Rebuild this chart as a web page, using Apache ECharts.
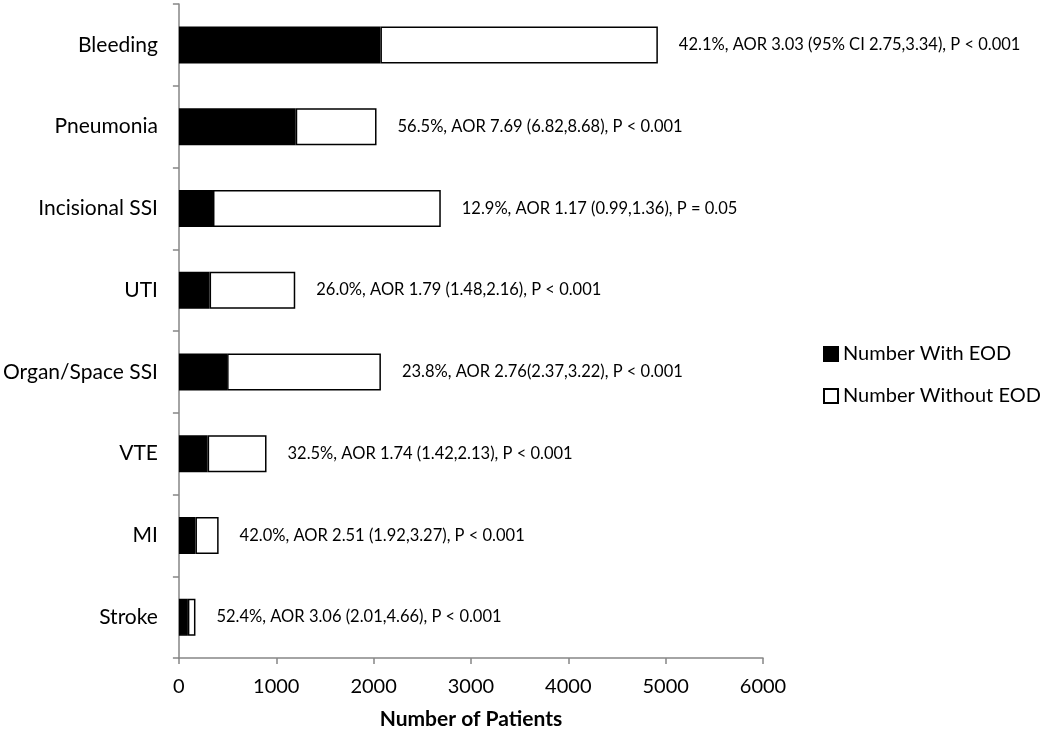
<!DOCTYPE html>
<html>
<head>
<meta charset="utf-8">
<script src="https://cdn.jsdelivr.net/npm/echarts@6/dist/echarts.min.js"></script>
<style>
html,body{margin:0;padding:0;background:#fff;}
#chart{width:1050px;height:735px;}
</style>
</head>
<body>
<div id="chart"></div>
<script>
const categories = ["Bleeding", "Pneumonia", "Incisional SSI", "UTI", "Organ/Space SSI", "VTE", "MI", "Stroke"];
const withEOD = [2070, 1200, 350, 315, 495, 295, 170, 92];
const withoutEOD = [2850, 830, 2340, 880, 1580, 605, 238, 78];
const annotations = [
  "42.1%, AOR 3.03 (95% CI 2.75,3.34), P < 0.001",
  "56.5%, AOR 7.69 (6.82,8.68), P < 0.001",
  "12.9%, AOR 1.17 (0.99,1.36), P = 0.05",
  "26.0%, AOR 1.79 (1.48,2.16), P < 0.001",
  "23.8%, AOR 2.76(2.37,3.22), P < 0.001",
  "32.5%, AOR 1.74 (1.42,2.13), P < 0.001",
  "42.0%, AOR 2.51 (1.92,3.27), P < 0.001",
  "52.4%, AOR 3.06 (2.01,4.66), P < 0.001"
];
const xTicks = [0, 1000, 2000, 3000, 4000, 5000, 6000];

const font = "Lato, 'Open Sans', sans-serif";
const chart = echarts.init(document.getElementById('chart'), null, {renderer: 'canvas'});
chart.setOption({
  animation: false,
  backgroundColor: '#fff',
  textStyle: {fontFamily: font, color: '#000'},
  grid: {left: 178, right: 287, top: 4, bottom: 77, containLabel: false},
  legend: {
    orient: 'vertical',
    left: 818,
    top: 339,
    itemWidth: 14,
    itemHeight: 14,
    itemGap: 22,
    icon: 'rect',
    textStyle: {fontSize: 20, color: '#000', fontFamily: font},
    data: ['Number With EOD', 'Number Without EOD']
  },
  xAxis: {
    type: 'value',
    min: xTicks[0],
    max: xTicks[xTicks.length - 1],
    interval: 1000,
    name: 'Number of Patients',
    nameLocation: 'middle',
    nameGap: 51,
    nameTextStyle: {fontSize: 21, fontWeight: 'bold', color: '#000', fontFamily: font},
    axisLine: {show: true, lineStyle: {color: '#868686', width: 1.5}},
    axisTick: {show: true, length: 6, lineStyle: {color: '#868686', width: 1.5}},
    axisLabel: {fontSize: 20, color: '#000', margin: 19, fontFamily: font, formatter: v => String(v)},
    splitLine: {show: false}
  },
  yAxis: {
    type: 'category',
    data: categories,
    inverse: true,
    axisLine: {show: true, lineStyle: {color: '#868686', width: 1.5}},
    axisTick: {show: true, length: 6, inside: false, lineStyle: {color: '#868686', width: 1.5}},
    axisLabel: {fontSize: 21, color: '#000', margin: 21, fontFamily: font}
  },
  series: [
    {
      name: 'Number With EOD',
      type: 'bar',
      stack: 'total',
      barWidth: 37,
      data: withEOD,
      itemStyle: {color: '#000', borderColor: '#000', borderWidth: 1.5}
    },
    {
      name: 'Number Without EOD',
      type: 'bar',
      stack: 'total',
      barWidth: 37,
      data: withoutEOD,
      itemStyle: {color: '#fff', borderColor: '#000', borderWidth: 1.5},
      label: {
        show: true,
        position: 'right',
        distance: 21,
        fontSize: 16.5,
        color: '#000',
        fontFamily: font,
        formatter: p => annotations[p.dataIndex]
      }
    }
  ]
});
</script>
</body>
</html>
